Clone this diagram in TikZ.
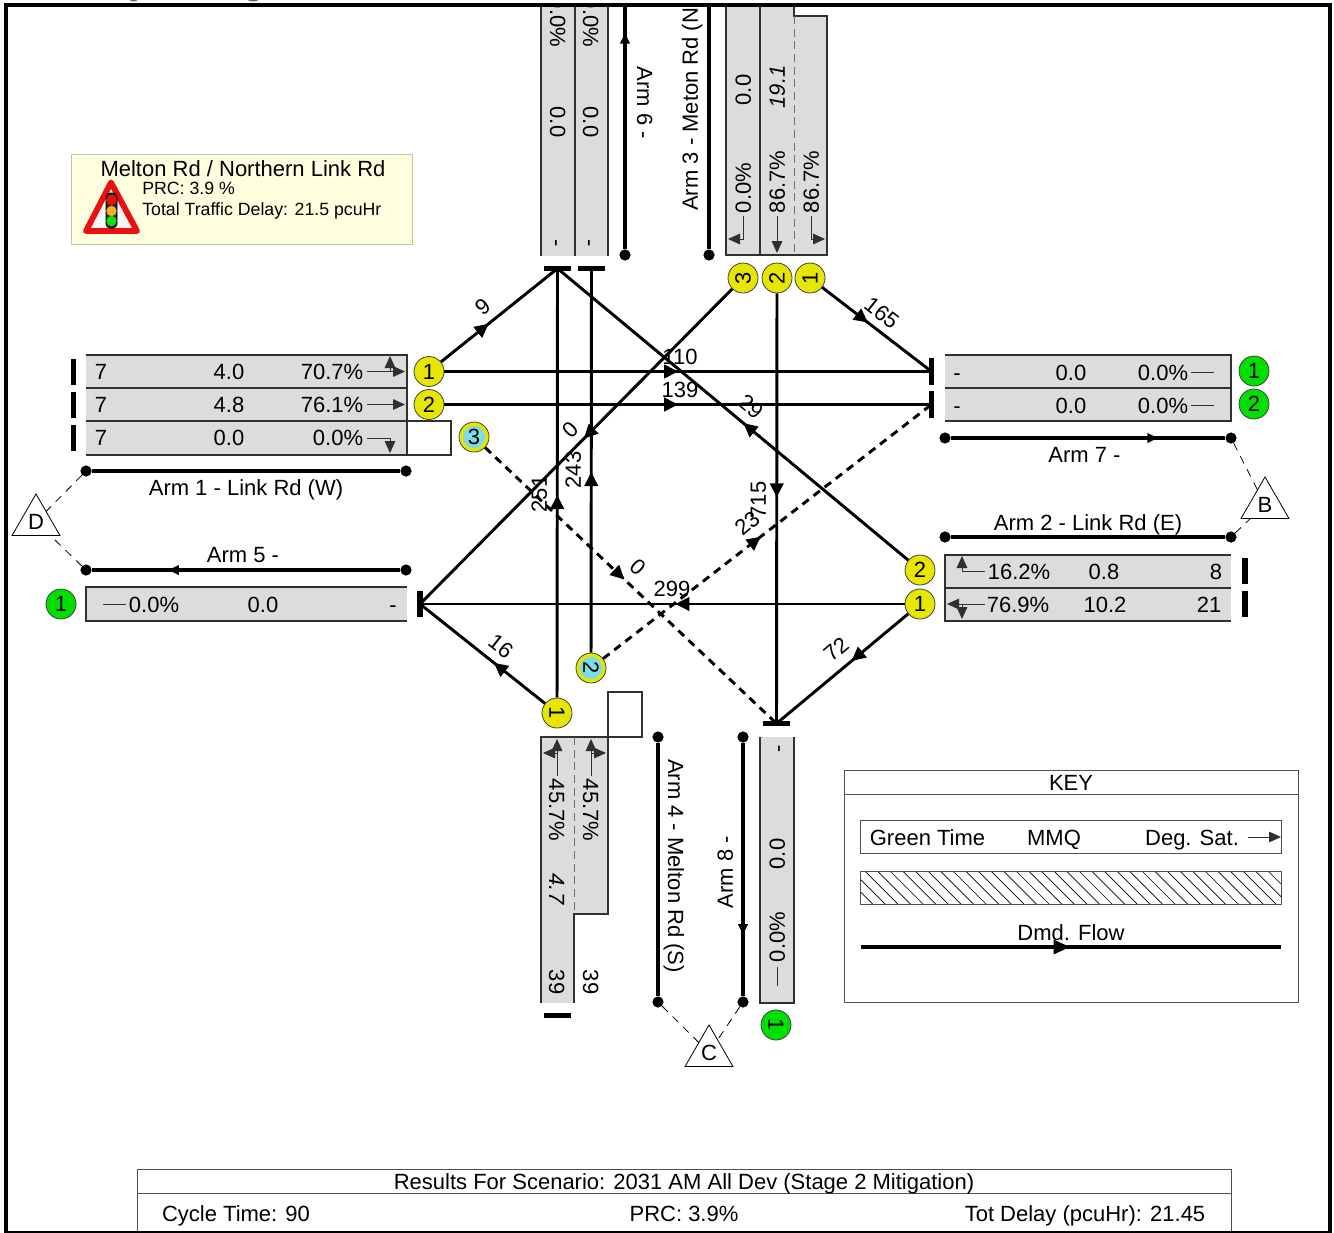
\documentclass[tikz,border=0pt]{standalone}
\usepackage{fontspec}
\setmainfont{Liberation Sans}
\usetikzlibrary{arrows.meta,shapes.geometric,decorations.markings}
\definecolor{lanegrey}{HTML}{DCDCDC}
\definecolor{edgegrey}{HTML}{303030}
\definecolor{sigyellow}{HTML}{E6E600}
\definecolor{siggreen}{HTML}{00E000}
\definecolor{sigcyan}{HTML}{7FDCE6}
\definecolor{infofill}{HTML}{FFFFE0}
\definecolor{infoedge}{HTML}{C4C4A8}
\definecolor{signred}{HTML}{E81010}
\definecolor{signamber}{HTML}{F0B020}
\definecolor{signgreen}{HTML}{10E010}

\begin{document}
\begin{tikzpicture}[
      x=0.75pt, y=-0.75pt,
      lab/.style={font=\fontsize{16.5}{19}\selectfont, inner sep=0pt, text height=11.8pt, text depth=0pt},
      small/.style={font=\fontsize{13.3}{15}\selectfont, inner sep=0pt, text height=9.5pt, text depth=0pt, anchor=west},
      lanefill/.style={fill=lanegrey},
      laneedge/.style={draw=edgegrey, line width=1pt},
      lanearrow/.style={-{Triangle[length=9pt,width=8pt]}, draw=edgegrey, line width=0.6pt},
      flow/.style={line width=2.2pt},
      flowdash/.style={flow, dash pattern=on 6pt off 4.5pt},
      flowhead/.style={postaction={decorate, decoration={markings, mark=at position #1 with {\arrow{Triangle[length=10.5pt,width=10pt]}}}}},
      armline/.style={line width=2.3pt},
      armhead/.style={postaction={decorate, decoration={markings, mark=at position #1 with {\arrow{Triangle[length=8pt,width=7pt]}}}}},
      armdot/.style={circle, fill=black, inner sep=0pt, minimum size=8.4pt},
      armtri/.style={regular polygon, regular polygon sides=3, draw, fill=white, line width=0.6pt, inner sep=0pt, outer sep=0pt, minimum size=41.6pt, font=\fontsize{16.5}{19}\selectfont},
      linkdash/.style={line width=0.6pt, dash pattern=on 6pt off 5pt},
      stopbar/.style={fill=black, inner sep=0pt},
      stopv/.style={stopbar, minimum width=3.8pt, minimum height=20pt},
      stoph/.style={stopbar, minimum width=20pt, minimum height=3.8pt},
      sig/.style={circle, draw=black!75, line width=0.6pt, inner sep=0pt, minimum size=22.5pt, font=\fontsize{16.5}{19}\selectfont},
      sigy/.style={sig, fill=sigyellow},
      sigg/.style={sig, fill=siggreen},
      sigc/.style={sig, fill=sigyellow, path picture={\fill[sigcyan] (path picture bounding box.center) circle (8.4pt);}},
      keyedge/.style={draw=edgegrey!85, line width=0.7pt}
  ]
      \useasboundingbox (0,0) rectangle (1334,1232);
      \fill[black!60] (133.5,0) ellipse (3.5 and 1.5);
      \fill[black!60] (253,0) ellipse (5 and 1.5);

      \begin{scope}
      \clip (6,5) rectangle (1330,1231);

      \node[rectangle, draw=infoedge, fill=infofill, line width=0.9pt, minimum width=255.5pt, minimum height=68pt] (info) at (241.8,199.5) {};
      \node[lab] (infotitle) at (243,169) {Melton Rd / Northern Link Rd};
      \node[small] (infoprc) at (142,188) {PRC: 3.9 \%};
      \node[small] (infodelay) at (142,209) {Total Traffic Delay: 21.5 pcuHr};
      \draw[signred, fill=white!97!black, line width=4.4pt, line join=round] (111,182.5) -- (86,231) -- (137,231) -- cycle;
      \fill[black!85, rounded corners=3pt, draw=black, line width=0.5pt] (106,193) rectangle (117,228);
      \fill[signred] (111.5,200) circle (5.2);
      \fill[signamber] (111.5,211) circle (5.2);
      \fill[signgreen] (111.5,221) circle (5.2);

      \fill[lanefill] (86,355) rectangle (407,455);
      \draw[laneedge] (86,355) -- (407,355) -- (407,455) -- (86,455);
      \draw[laneedge] (86,388) -- (407,388);
      \draw[laneedge] (86,421) -- (451,421) -- (451,455) -- (407,455);
      \node[lab] (w1a) at (101,372) {7};
      \node[lab] (w1b) at (229,372) {4.0};
      \node[lab] (w1c) at (332,372) {70.7\%};
      \node[lab] (w2a) at (101,405) {7};
      \node[lab] (w2b) at (229,405) {4.8};
      \node[lab] (w2c) at (332,405) {76.1\%};
      \node[lab] (w3a) at (101,438) {7};
      \node[lab] (w3b) at (229,438) {0.0};
      \node[lab] (w3c) at (338,438) {0.0\%};
      \draw[lanearrow] (367,371.5) -- (405,371.5);
      \draw[lanearrow] (390,371.5) -- (390,356);
      \draw[lanearrow] (367,404.5) -- (405,404.5);
      \draw[lanearrow] (367,438) -- (390,438) -- (390,453);
      \node[stopv] (wbar1) at (73.5,372) {};
      \node[stopv] (wbar2) at (73.5,405) {};
      \node[stopv] (wbar3) at (73.5,438) {};

      \fill[lanefill] (86,587) rectangle (407,621);
      \draw[laneedge] (407,587) -- (86,587) -- (86,621) -- (407,621);
      \draw[edgegrey, line width=0.6pt] (103,604) -- (126,604);
      \node[lab] (a5b) at (154,605) {0.0\%};
      \node[lab] (a5c) at (263,605) {0.0};
      \node[lab] (a5d) at (393,605) {-};

      \fill[lanefill] (945,355) rectangle (1231,421);
      \draw[laneedge] (945,355) -- (1231,355) -- (1231,421) -- (945,421);
      \draw[laneedge] (945,388) -- (1231,388);
      \node[lab] (e1a) at (957,373) {-};
      \node[lab] (e1b) at (1071,373) {0.0};
      \node[lab] (e1c) at (1163,373) {0.0\%};
      \node[lab] (e2a) at (957,406) {-};
      \node[lab] (e2b) at (1071,406) {0.0};
      \node[lab] (e2c) at (1163,406) {0.0\%};
      \draw[edgegrey, line width=0.6pt] (1191,372) -- (1214,372);
      \draw[edgegrey, line width=0.6pt] (1191,405) -- (1214,405);

      \fill[lanefill] (945,555) rectangle (1231,621);
      \draw[laneedge] (1231,555) -- (945,555) -- (945,621) -- (1231,621);
      \draw[laneedge] (945,588) -- (1231,588);
      \node[lab] (a2a) at (1019,572) {16.2\%};
      \node[lab] (a2b) at (1104,572) {0.8};
      \node[lab] (a2c) at (1216,572) {8};
      \node[lab] (a2d) at (1018,605) {76.9\%};
      \node[lab] (a2e) at (1105,605) {10.2};
      \node[lab] (a2f) at (1209,605) {21};
      \draw[lanearrow] (985,571) -- (962,571) -- (962,556);
      \draw[lanearrow] (985,604) -- (947,604);
      \draw[lanearrow] (962,604) -- (962,619);
      \node[stopv] (a2bar2) at (1245,571) {};
      \node[stopv] (a2bar1) at (1245,604) {};

      \fill[lanefill] (541,0) rectangle (608,256);
      \draw[laneedge] (541,0) -- (541,256);
      \draw[laneedge] (575,0) -- (575,256);
      \draw[laneedge] (608,0) -- (608,256);
      \node[lab, rotate=-90] (a6a) at (558,22) {0.0\%};
      \node[lab, rotate=-90] (a6b) at (558,122) {0.0};
      \node[lab, rotate=-90] (a6c) at (558,243) {-};
      \node[lab, rotate=-90] (a6d) at (591,22) {0.0\%};
      \node[lab, rotate=-90] (a6e) at (591,122) {0.0};
      \node[lab, rotate=-90] (a6f) at (591,243) {-};
      \node[stoph] (sixbar1) at (557.5,268.5) {};
      \node[stoph] (sixbar2) at (591.5,268.5) {};

      \fill[lanefill] (726,0) rectangle (794,255);
      \fill[lanefill] (794,16) rectangle (827,255);
      \draw[laneedge] (726,0) -- (726,255) -- (827,255) -- (827,16) -- (794,16) -- (794,0);
      \draw[laneedge] (760,0) -- (760,255);
      \draw[edgegrey!70, line width=0.6pt, dash pattern=on 6pt off 3.5pt] (794,16) -- (794,255);
      \node[lab, rotate=90] (a3a) at (743,90) {0.0};
      \node[lab, rotate=90] (a3b) at (743,188) {0.0\%};
      \node[lab, rotate=90] (a3c) at (777,87) {\itshape 19.1};
      \node[lab, rotate=90] (a3d) at (777,182) {86.7\%};
      \node[lab, rotate=90] (a3e) at (811,182) {86.7\%};
      \draw[lanearrow] (743,216) -- (743,239) -- (728,239);
      \draw[lanearrow] (777,216) -- (777,253);
      \draw[lanearrow] (811,216) -- (811,239) -- (825,239);

      \fill[lanefill] (541,737) rectangle (574,1003);
      \fill[lanefill] (574,737) rectangle (608,914);
      \draw[laneedge] (541,1003) -- (541,737) -- (642,737) -- (642,692) -- (608,692) -- (608,914) -- (574,914) -- (574,1003);
      \draw[edgegrey!70, line width=0.6pt, dash pattern=on 6pt off 3.5pt] (574,737) -- (574,914);
      \node[lab, rotate=-90] (a4a) at (557,810) {45.7\%};
      \node[lab, rotate=-90] (a4b) at (557,889) {\itshape 4.7};
      \node[lab, rotate=-90] (a4c) at (557,982) {39};
      \node[lab, rotate=-90] (a4d) at (591,810) {45.7\%};
      \node[lab, rotate=-90] (a4e) at (591,982) {39};
      \draw[lanearrow] (557,776) -- (557,739);
      \draw[lanearrow] (557,753) -- (543,753);
      \draw[lanearrow] (591,776) -- (591,739);
      \draw[lanearrow] (591,753) -- (606,753);
      \node[stoph] (a4bar) at (557.5,1015.5) {};

      \fill[lanefill] (760,737) rectangle (794,1003);
      \draw[laneedge] (760,737) -- (760,1003) -- (794,1003) -- (794,737);
      \node[lab, rotate=90] (a8a) at (777,749) {-};
      \node[lab, rotate=90] (a8b) at (777,854) {0.0};
      \node[lab, rotate=90] (a8c) at (777,937) {0.0\%};
      \draw[edgegrey, line width=0.6pt] (777,967) -- (777,986);
      \node[stoph] (a8bar) at (776.5,723.5) {};

      \node[stopv] (fivebar) at (420,604) {};
      \node[stopv] (ebar1) at (931.5,371.5) {};
      \node[stopv] (ebar2) at (931.5,404.5) {};

      \node[armdot] (a1l) at (86,471) {};
      \node[armdot] (a1r) at (406,471) {};
      \node[armdot] (a5l) at (86,570) {};
      \node[armdot] (a5r) at (406,570) {};
      \node[armdot] (a7l) at (945,438) {};
      \node[armdot] (a7r) at (1231,438) {};
      \node[armdot] (a2l) at (945,537) {};
      \node[armdot] (a2r) at (1231,537) {};
      \node[armdot] (a6b2) at (625,255) {};
      \node[armdot] (a3b2) at (709,255) {};
      \node[armdot] (a4t) at (658,737) {};
      \node[armdot] (a4b2) at (658,1002) {};
      \node[armdot] (a8t) at (743,737) {};
      \node[armdot] (a8b2) at (743,1002) {};
      \coordinate (a6top) at (625,0);
      \coordinate (a3top) at (709,0);

      \draw[armline] (a1l) -- (a1r);
      \draw[armline, armhead=0.752] (a5r) -- (a5l);
      \draw[armline, armhead=0.755] (a7l) -- (a7r);
      \draw[armline] (a2l) -- (a2r);
      \draw[armline, armhead=0.868] (a6b2) -- (a6top);
      \draw[armline] (a3b2) -- (a3top);
      \draw[armline] (a4t) -- (a4b2);
      \draw[armline, armhead=0.758] (a8t) -- (a8b2);

      \node[lab] (arm1) at (246,488) {Arm 1 - Link Rd (W)};
      \node[lab] (arm5) at (243,555) {Arm 5 -};
      \node[lab] (arm7) at (1084.5,455) {Arm 7 -};
      \node[lab] (arm2) at (1088,523) {Arm 2 - Link Rd (E)};
      \node[lab, rotate=-90] (arm6) at (645,103) {Arm 6 -};
      \node[lab, rotate=90, anchor=west] (arm3) at (690,211) {Arm 3 - Meton Rd (N)};
      \node[lab, rotate=-90] (arm4) at (676,866) {Arm 4 - Melton Rd (S)};
      \node[lab, rotate=90] (arm8) at (725,872) {Arm 8 -};

      \node[armtri] (triD) at (36,521.7) {D};
      \node[armtri] (triB) at (1265,504.7) {B};
      \node[armtri] (triC) at (709,1052.7) {C};
      \draw[linkdash] (a1l) -- (triD);
      \draw[linkdash] (a5l) -- (triD);
      \draw[linkdash] (a7r) -- (triB);
      \draw[linkdash] (a2r) -- (triB);
      \draw[linkdash] (a4b2) -- (triC);
      \draw[linkdash] (a8b2) -- (triC);

      \node[sigy] (w1) at (429,371.5) {1};
      \node[sigy] (w2) at (429,404.5) {2};
      \node[sigc] (w3) at (474,437) {3};
      \node[sigy] (n3) at (743,278) {\rotatebox{90}{3}};
      \node[sigy] (n2) at (777,278) {\rotatebox{90}{2}};
      \node[sigy] (n1) at (810,278) {\rotatebox{90}{1}};
      \node[sigy] (e2) at (920,570) {2};
      \node[sigy] (e1) at (920,604) {1};
      \node[sigy] (s1) at (557,713) {\rotatebox{-90}{1}};
      \node[sigc] (s2) at (591,668) {\rotatebox{-90}{2}};
      \node[sigg] (out5) at (61,604) {1};
      \node[sigg] (out71) at (1254,371) {1};
      \node[sigg] (out72) at (1254,404) {2};
      \node[sigg] (out8) at (776,1025) {\rotatebox{-90}{1}};

      \draw[flow, flowhead=0.48] (w1) -- (ebar1.center);
      \draw[flow, flowhead=0.48] (w2) -- (ebar2.center);
      \draw[flow, flowhead=0.41] (w1) -- (sixbar1.center);
      \draw[flowdash, flowhead=0.478] (w3) -- (a8bar.center);
      \draw[flow, flowhead=0.475] (n3) -- (fivebar.center);
      \draw[flow, flowhead=0.474] (n2) -- (a8bar.center);
      \draw[flow, flowhead=0.42] (n1) -- (ebar1.center);
      \draw[flow, flowhead=0.47] (e2) -- (sixbar1.center);
      \draw[flow, flowhead=0.473] (e1) -- (fivebar.center);
      \draw[flow, flowhead=0.43] (e1) -- (a8bar.center);
      \draw[flow, flowhead=0.472] (s1) -- (sixbar1.center);
      \draw[flow, flowhead=0.47] (s2) -- (sixbar2.center);
      \draw[flowdash, flowhead=0.48] (s2) -- (ebar2.center);
      \draw[flow, flowhead=0.41] (s1) -- (fivebar.center);

      \node[lab] (f110) at (680,357) {110};
      \node[lab] (f139) at (680,390) {139};
      \node[lab, rotate=39] (f9) at (482.5,307) {9};
      \node[lab, rotate=-38] (f165) at (882,313) {165};
      \node[lab, rotate=-40] (f29) at (751,406) {29};
      \node[lab, rotate=45] (f0a) at (570,430) {0};
      \node[lab, rotate=-43] (f0b) at (638,567) {0};
      \node[lab, rotate=90] (f715) at (758,500) {715};
      \node[lab, rotate=40] (f23) at (747,523) {23};
      \node[lab] (f299) at (672,589) {299};
      \node[lab, rotate=40] (f72) at (836,649) {72};
      \node[lab, rotate=-38] (f16) at (501,646) {16};
      \node[lab, rotate=90] (f251) at (539,494) {251};
      \node[lab, rotate=90] (f243) at (573,470) {243};

      \node[keyedge, rectangle, draw, minimum width=340.5pt, minimum height=174pt] (keybox) at (1071,886) {};
      \draw[keyedge] (844,794) -- (1298,794);
      \node[lab] (keytitle) at (1071,783) {KEY};
      \node[keyedge, rectangle, draw, minimum width=315.7pt, minimum height=24.7pt] (keyrow) at (1070.5,836.5) {};
      \node[lab] (keygreen) at (927.5,838) {Green Time};
      \node[lab] (keymmq) at (1054,838) {MMQ};
      \node[lab] (keydeg) at (1192,838) {Deg. Sat.};
      \draw[lanearrow] (1248,837) -- (1281,837);
      \begin{scope}
        \clip (860,871) rectangle (1281,904);
        \foreach \hx in {0,...,36}
          \draw[line width=0.5pt] ({827+12.6*\hx},871) -- ({860+12.6*\hx},904);
      \end{scope}
      \draw[keyedge] (860,871) rectangle (1281,904);
      \coordinate (keyl) at (861,947);
      \coordinate (keyr) at (1281,947);
      \draw[armline, postaction={decorate, decoration={markings, mark=at position 0.498 with {\arrow{Triangle[length=12.5pt,width=10.5pt]}}}}] (keyl) -- (keyr);
      \node[lab] (keyflow) at (1071,933) {Dmd. Flow};

      \node[keyedge, rectangle, draw, minimum width=820.5pt, minimum height=46.5pt] (resbox) at (684,1200) {};
      \draw[keyedge] (137,1193) -- (1231,1193);
      \node[lab] (restitle) at (684,1182) {Results For Scenario: 2031 AM All Dev (Stage 2 Mitigation)};
      \node[lab] (rescycle) at (236,1214) {Cycle Time: 90};
      \node[lab] (resprc) at (684,1214) {PRC: 3.9\%};
      \node[lab] (resdelay) at (1085,1214) {Tot Delay (pcuHr): 21.45};
      \end{scope}

      \draw[line width=3.2pt] (6,1233.5) -- (6,5) -- (1330,5) -- (1330,1233.5) -- cycle;
  \end{tikzpicture}
\end{document}
